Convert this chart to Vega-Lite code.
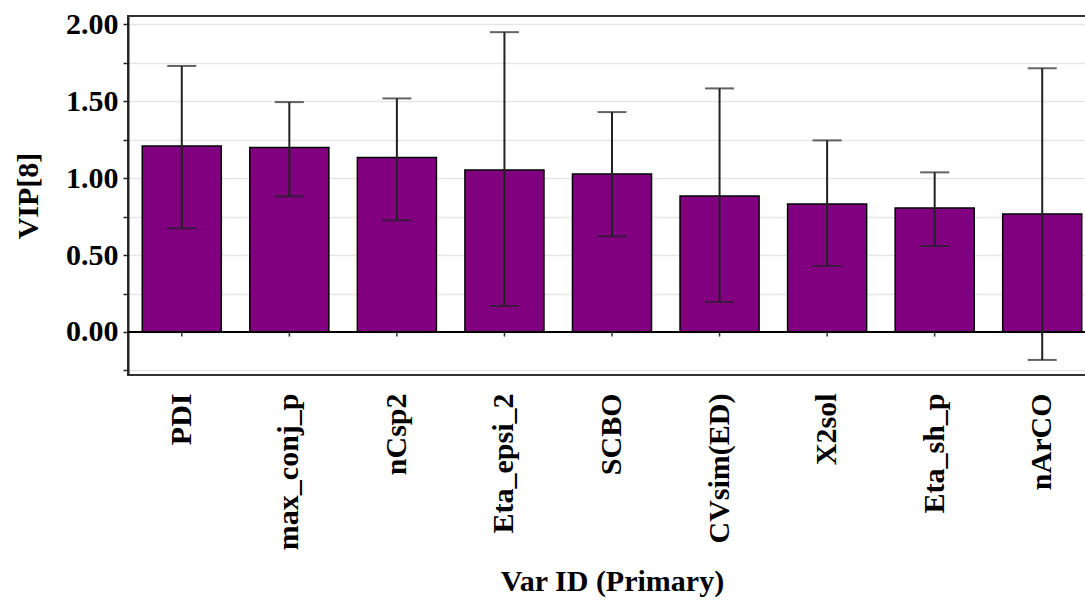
{
  "$schema": "https://vega.github.io/schema/vega-lite/v6.json",
  "autosize": "none",
  "width": 958,
  "height": 359,
  "padding": {"left": 128, "top": 16, "right": 0, "bottom": 232},
  "background": "white",
  "config": {
    "view": {"stroke": "#333333", "strokeWidth": 2},
    "font": "Liberation Serif",
    "axisY": {
      "labelFont": "Liberation Serif",
      "labelFontWeight": "bold",
      "labelFontSize": 30,
      "labelColor": "black",
      "labelPadding": 5,
      "labelOverlap": false,
      "titleFont": "Liberation Serif",
      "titleFontWeight": "bold",
      "titleFontSize": 30,
      "titleColor": "black",
      "titlePadding": 22,
      "tickSize": 5,
      "tickColor": "#222222",
      "tickWidth": 1.5,
      "domainColor": "#222222",
      "domainWidth": 2,
      "grid": true,
      "gridColor": "#e6e6e6",
      "gridWidth": 1.5
    },
    "axisX": {
      "labelAngle": -90,
      "ticks": false,
      "domain": false,
      "grid": false,
      "labelPadding": 18,
      "labelFont": "Liberation Serif",
      "labelFontWeight": "bold",
      "labelFontSize": 30,
      "labelColor": "black",
      "titleFont": "Liberation Serif",
      "titleFontWeight": "bold",
      "titleFontSize": 30,
      "titleColor": "black",
      "titlePadding": 17
    }
  },
  "data": {
    "values": [
      {"var": "PDI", "vip": 1.21, "lo": 0.674, "hi": 1.73},
      {"var": "max_conj_p", "vip": 1.2, "lo": 0.882, "hi": 1.495},
      {"var": "nCsp2", "vip": 1.134, "lo": 0.726, "hi": 1.519},
      {"var": "Eta_epsi_2", "vip": 1.053, "lo": 0.169, "hi": 1.95},
      {"var": "SCBO", "vip": 1.027, "lo": 0.622, "hi": 1.43},
      {"var": "CVsim(ED)", "vip": 0.884, "lo": 0.195, "hi": 1.584},
      {"var": "X2sol", "vip": 0.832, "lo": 0.429, "hi": 1.246},
      {"var": "Eta_sh_p", "vip": 0.806, "lo": 0.559, "hi": 1.038},
      {"var": "nArCO", "vip": 0.767, "lo": -0.182, "hi": 1.715}
    ]
  },
  "layer": [
    {
      "mark": {"type": "bar", "color": "#800080", "stroke": "black", "strokeWidth": 1.5},
      "encoding": {
        "x": {
          "field": "var", "type": "nominal", "sort": null,
          "scale": {"range": [0, 968], "paddingInner": 0.265, "paddingOuter": 0.1325},
          "axis": {"title": "Var ID (Primary)"}
        },
        "y": {
          "field": "vip", "type": "quantitative",
          "scale": {"domain": [-0.28, 2.055], "nice": false, "zero": false},
          "axis": {
            "title": "VIP[8]",
            "values": [-0.25, 0, 0.25, 0.5, 0.75, 1, 1.25, 1.5, 1.75, 2],
            "labelExpr": "indexof([0, 0.5, 1, 1.5, 2], datum.value) >= 0 ? format(datum.value, '.2f') : ''"
          }
        }
      }
    },
    {
      "mark": {"type": "rule", "color": "black", "strokeWidth": 1.5},
      "encoding": {
        "y": {
          "datum": 0, "type": "quantitative",
          "axis": {
            "title": "VIP[8]",
            "values": [-0.25, 0, 0.25, 0.5, 0.75, 1, 1.25, 1.5, 1.75, 2],
            "labelExpr": "indexof([0, 0.5, 1, 1.5, 2], datum.value) >= 0 ? format(datum.value, '.2f') : ''"
          }
        }
      }
    },
    {
      "mark": {"type": "rule", "color": "#333333", "strokeWidth": 1.5},
      "encoding": {
        "x": {"field": "var", "type": "nominal", "sort": null, "axis": {"title": "Var ID (Primary)"}},
        "y": {
          "datum": 0, "type": "quantitative",
          "axis": {
            "title": "VIP[8]",
            "values": [-0.25, 0, 0.25, 0.5, 0.75, 1, 1.25, 1.5, 1.75, 2],
            "labelExpr": "indexof([0, 0.5, 1, 1.5, 2], datum.value) >= 0 ? format(datum.value, '.2f') : ''"
          }
        },
        "y2": {"datum": -0.03}
      }
    },
    {
      "mark": {"type": "rule", "color": "#222222", "strokeWidth": 2},
      "encoding": {
        "x": {"field": "var", "type": "nominal", "sort": null, "axis": {"title": "Var ID (Primary)"}},
        "y": {
          "field": "lo", "type": "quantitative",
          "axis": {
            "title": "VIP[8]",
            "values": [-0.25, 0, 0.25, 0.5, 0.75, 1, 1.25, 1.5, 1.75, 2],
            "labelExpr": "indexof([0, 0.5, 1, 1.5, 2], datum.value) >= 0 ? format(datum.value, '.2f') : ''"
          }
        },
        "y2": {"field": "hi"}
      }
    },
    {
      "mark": {"type": "tick", "color": "#222222", "thickness": 2, "size": 29},
      "encoding": {
        "x": {"field": "var", "type": "nominal", "sort": null, "axis": {"title": "Var ID (Primary)"}},
        "y": {
          "field": "hi", "type": "quantitative",
          "axis": {
            "title": "VIP[8]",
            "values": [-0.25, 0, 0.25, 0.5, 0.75, 1, 1.25, 1.5, 1.75, 2],
            "labelExpr": "indexof([0, 0.5, 1, 1.5, 2], datum.value) >= 0 ? format(datum.value, '.2f') : ''"
          }
        }
      }
    },
    {
      "mark": {"type": "tick", "color": "#222222", "thickness": 2, "size": 29},
      "encoding": {
        "x": {"field": "var", "type": "nominal", "sort": null, "axis": {"title": "Var ID (Primary)"}},
        "y": {
          "field": "lo", "type": "quantitative",
          "axis": {
            "title": "VIP[8]",
            "values": [-0.25, 0, 0.25, 0.5, 0.75, 1, 1.25, 1.5, 1.75, 2],
            "labelExpr": "indexof([0, 0.5, 1, 1.5, 2], datum.value) >= 0 ? format(datum.value, '.2f') : ''"
          }
        }
      }
    }
  ]
}
